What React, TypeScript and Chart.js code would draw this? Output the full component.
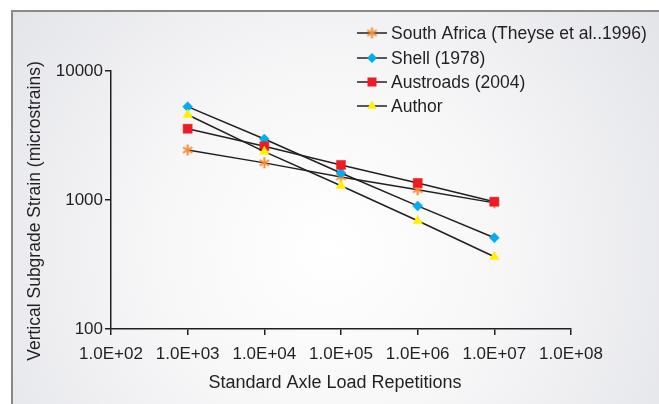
import React, { useEffect, useRef } from 'react';
import { Chart, registerables } from 'chart.js';

Chart.register(...registerables);

// ---- data ----
const loadRepetitions = [1e3, 1e4, 1e5, 1e6, 1e7];
const southAfrica = [2440, 1940, 1510, 1200, 950];
const shell = [5290, 2970, 1620, 900, 510];
const austroads = [3570, 2610, 1870, 1355, 970];
const author = [4580, 2370, 1290, 690, 363];

const seriesNames = ['South Africa (Theyse et al..1996)', 'Shell (1978)', 'Austroads (2004)', 'Author'];
const xTickValues = [1e2, 1e3, 1e4, 1e5, 1e6, 1e7, 1e8];
const yTickValues = [100, 1000, 10000];
const xTitle = 'Standard Axle Load Repetitions';
const yTitle = 'Vertical Subgrade Strain (microstrains)';

const FONT = '"Liberation Sans", Arial, sans-serif';
const INK = '#231f20';
const ORANGE = '#f58a2e';
const BLUE = '#00aeef';
const RED = '#ed1c24';
const YELLOW = '#fff200';

function makeAsterisk(): HTMLCanvasElement {
  const c = document.createElement('canvas');
  c.width = 13;
  c.height = 13;
  const g = c.getContext('2d')!;
  g.strokeStyle = ORANGE;
  g.lineWidth = 2;
  const cx = 6.5, cy = 6.5, r = 5.5;
  for (const a of [90, 30, 150]) {
    const rad = (a * Math.PI) / 180;
    g.beginPath();
    g.moveTo(cx - r * Math.cos(rad), cy - r * Math.sin(rad));
    g.lineTo(cx + r * Math.cos(rad), cy + r * Math.sin(rad));
    g.stroke();
  }
  return c;
}

function drawMarker(ctx: CanvasRenderingContext2D, kind: number, x: number, y: number, star: HTMLCanvasElement) {
  ctx.save();
  if (kind === 0) {
    ctx.drawImage(star, x - star.width / 2, y - star.height / 2);
  } else if (kind === 1) {
    ctx.fillStyle = BLUE;
    const r = 5;
    ctx.beginPath();
    ctx.moveTo(x, y - r);
    ctx.lineTo(x + r, y);
    ctx.lineTo(x, y + r);
    ctx.lineTo(x - r, y);
    ctx.closePath();
    ctx.fill();
  } else if (kind === 2) {
    ctx.fillStyle = RED;
    ctx.fillRect(x - 4.5, y - 4.5, 9, 9);
  } else {
    ctx.fillStyle = YELLOW;
    const r = 5.5;
    ctx.beginPath();
    ctx.moveTo(x, y - r);
    ctx.lineTo(x + r * Math.sin((2 * Math.PI) / 3), y + r / 2);
    ctx.lineTo(x - r * Math.sin((2 * Math.PI) / 3), y + r / 2);
    ctx.closePath();
    ctx.fill();
  }
  ctx.restore();
}

export default function App() {
  const canvasRef = useRef<HTMLCanvasElement | null>(null);

  useEffect(() => {
    document.body.style.margin = '0';
    const canvas = canvasRef.current;
    if (!canvas) return;
    const star = makeAsterisk();

    const styles = [
      { pointStyle: star as any, pointRadius: 6, color: ORANGE, order: 4 },
      { pointStyle: 'rectRot', pointRadius: 5, color: BLUE, order: 3 },
      { pointStyle: 'rect', pointRadius: 6.4, color: RED, order: 2 },
      { pointStyle: 'triangle', pointRadius: 5.5, color: YELLOW, order: 1 },
    ];
    const values = [southAfrica, shell, austroads, author];

    const datasets = values.map((arr, i) => ({
      label: seriesNames[i],
      data: loadRepetitions.map((x, j) => ({ x, y: arr[j] })),
      borderColor: INK,
      borderWidth: 1.5,
      pointStyle: styles[i].pointStyle,
      pointRadius: styles[i].pointRadius,
      pointBackgroundColor: styles[i].color,
      pointBorderColor: styles[i].color,
      pointBorderWidth: 0.5,
      order: styles[i].order,
      tension: 0,
      fill: false,
    }));

    const decorPlugin = {
      id: 'decor',
      beforeDraw(chart: any) {
        const ctx: CanvasRenderingContext2D = chart.ctx;
        const { width, height } = chart;
        ctx.save();
        ctx.fillStyle = '#ffffff';
        ctx.fillRect(0, 0, width, height);
        const g = ctx.createRadialGradient(330, 250, 0, 330, 250, 430);
        g.addColorStop(0, '#ffffff');
        g.addColorStop(0.4, '#f7f7f8');
        g.addColorStop(1, '#e1e2e7');
        ctx.fillStyle = g;
        ctx.fillRect(11, 10, width - 11, height - 10);
        ctx.strokeStyle = '#8c8888';
        ctx.lineWidth = 2;
        ctx.beginPath();
        ctx.moveTo(12, height);
        ctx.lineTo(12, 11);
        ctx.lineTo(width, 11);
        ctx.stroke();
        ctx.restore();
      },
      afterDraw(chart: any) {
        const ctx: CanvasRenderingContext2D = chart.ctx;
        ctx.save();
        ctx.fillStyle = INK;
        ctx.textAlign = 'center';
        ctx.textBaseline = 'middle';
        ctx.font = `18px ${FONT}`;
        ctx.fillText(xTitle, 335, 383);
        ctx.save();
        ctx.translate(35, 211);
        ctx.rotate(-Math.PI / 2);
        ctx.font = `17.5px ${FONT}`;
        ctx.fillText(yTitle, 0, 0);
        ctx.restore();

        // legend
        const ys = [33, 58, 82, 106];
        ctx.font = `17.5px ${FONT}`;
        ctx.textAlign = 'left';
        seriesNames.forEach((name, i) => {
          const y = ys[i];
          ctx.strokeStyle = INK;
          ctx.lineWidth = 1.5;
          ctx.beginPath();
          ctx.moveTo(357, y);
          ctx.lineTo(387, y);
          ctx.stroke();
          drawMarker(ctx, i, 372, y, star);
          ctx.fillStyle = INK;
          ctx.fillText(name, 391, y + 1);
        });
        ctx.restore();
      },
    };

    const chart = new Chart(canvas, {
      type: 'line',
      data: { datasets: datasets as any },
      options: {
        animation: false,
        responsive: false,
        events: [],
        layout: { padding: { top: 71, right: 88, left: 0, bottom: 0 } },
        plugins: { legend: { display: false }, tooltip: { enabled: false } },
        scales: {
          x: {
            type: 'logarithmic',
            min: 1e2,
            max: 1e8,
            afterBuildTicks: (scale: any) => {
              scale.ticks = xTickValues.map((v) => ({ value: v }));
            },
            afterFit: (scale: any) => {
              scale.height = 75;
            },
            grid: { drawOnChartArea: false, drawTicks: true, tickLength: 6, color: INK, lineWidth: 1.5 },
            border: { display: true, color: INK, width: 1.5 },
            ticks: {
              color: INK,
              font: { family: FONT, size: 17 },
              padding: 9,
              maxRotation: 0,
              autoSkip: false,
              callback: (v: any) => {
                const e = Math.round(Math.log10(Number(v)));
                return '1.0E+' + String(e).padStart(2, '0');
              },
            },
          },
          y: {
            type: 'logarithmic',
            min: 100,
            max: 10000,
            afterBuildTicks: (scale: any) => {
              scale.ticks = yTickValues.map((v) => ({ value: v }));
            },
            afterFit: (scale: any) => {
              scale.width = 111;
            },
            grid: { drawOnChartArea: false, drawTicks: true, tickLength: 6, color: INK, lineWidth: 1.5 },
            border: { display: true, color: INK, width: 1.5 },
            ticks: {
              color: INK,
              font: { family: FONT, size: 17 },
              padding: 2,
              autoSkip: false,
              callback: (v: any) => String(v),
            },
          },
        },
      },
      plugins: [decorPlugin],
    });

    return () => chart.destroy();
  }, []);

  return <canvas ref={canvasRef} width={659} height={404} style={{ display: 'block' }} />;
}
